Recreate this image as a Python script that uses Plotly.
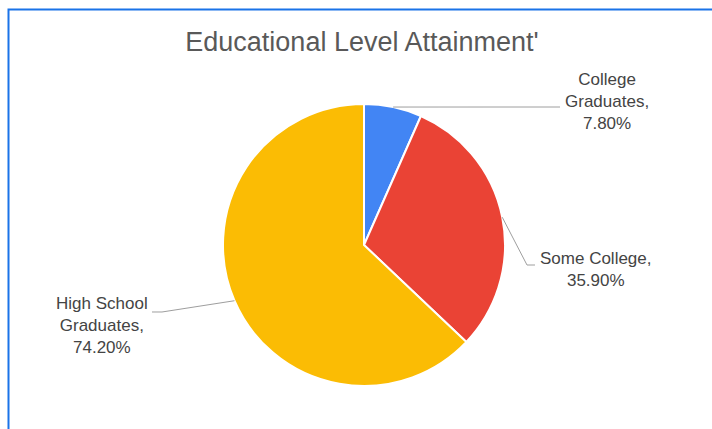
import math
import plotly.graph_objects as go

# Educational attainment shares (percent, as reported)
categories = ["College Graduates", "Some College", "High School Graduates"]
values = [7.8, 35.9, 74.2]
colors = ["#4285F4", "#EA4335", "#FBBC04"]
title_text = "Educational Level Attainment'"

W, H = 712, 429

# Pie geometry in pixels (margins are zero, so paper == page)
cx, cy, r = 364, 245, 141


def px(x):
    return x / W


def py(y):
    return 1 - y / H


fig = go.Figure(
    go.Pie(
        labels=categories,
        values=values,
        sort=False,
        direction="clockwise",
        rotation=0,
        marker=dict(colors=colors, line=dict(color="white", width=2)),
        textinfo="none",
        hoverinfo="label+value",
        domain=dict(x=[px(cx - r), px(cx + r)], y=[py(cy + r), py(cy - r)]),
        showlegend=False,
    )
)

# Label layout: wrapped text, anchor point and leader-line elbow/end (pixels)
label_text = [
    "College<br>Graduates,<br>{:.2f}%",
    "Some College,<br>{:.2f}%",
    "High School<br>Graduates,<br>{:.2f}%",
]
label_pos = [(607, 102), (596, 269), (102, 325)]
leader_pts = [
    [(560, 107)],
    [(527, 265), (535, 265)],
    [(162, 312), (152, 312)],
]

total = sum(values)
start = 0.0
shapes = []
annotations = []
for i, v in enumerate(values):
    sweep = v / total * 360
    mid = math.radians(start + sweep / 2)
    start += sweep
    x0 = cx + r * math.sin(mid)
    y0 = cy - r * math.cos(mid)
    pts = [(x0, y0)] + leader_pts[i]
    path = "M " + " L ".join(f"{px(x):.5f},{py(y):.5f}" for x, y in pts)
    shapes.append(dict(type="path", xref="paper", yref="paper", path=path,
                       line=dict(color="#9e9e9e", width=1)))
    lx, ly = label_pos[i]
    annotations.append(dict(
        x=px(lx), y=py(ly), xref="paper", yref="paper",
        text=label_text[i].format(v), showarrow=False,
        xanchor="center", yanchor="middle", align="center",
        font=dict(family="Liberation Sans, Arial", size=17, color="#444444"),
    ))

# Blue frame along the top and left edges
shapes.append(dict(
    type="path", xref="paper", yref="paper",
    path=f"M {px(8.5)},0 L {px(8.5)},{py(9.5)} L 1.01,{py(9.5)}",
    line=dict(color="#1a73e8", width=2),
))

fig.update_layout(
    width=W, height=H,
    margin=dict(l=0, r=0, t=0, b=0),
    paper_bgcolor="white",
    plot_bgcolor="white",
    title=dict(
        text=title_text, x=px(362), y=py(42), xanchor="center", yanchor="middle",
        xref="paper", yref="paper",
        font=dict(family="Liberation Sans, Arial", size=27, color="#595959"),
    ),
    shapes=shapes,
    annotations=annotations,
)

fig.write_html("out.html")
